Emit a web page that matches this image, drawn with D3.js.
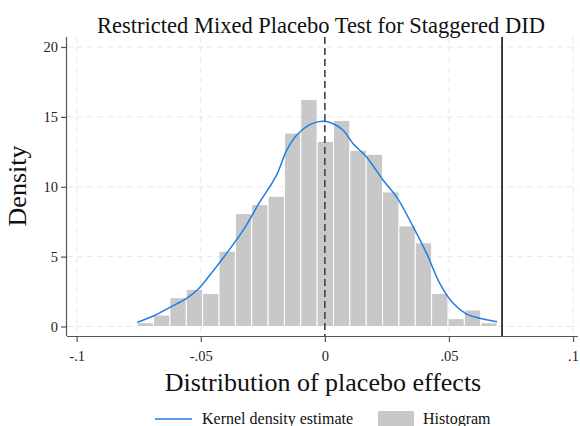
<!DOCTYPE html>
<html><head><meta charset="utf-8">
<script src="https://cdn.jsdelivr.net/npm/d3@7"></script>
<style>body{margin:0;background:#fff}svg{display:block}</style>
</head><body>
<svg id="chart" width="580" height="426"></svg>
<script>
// ---- data ----
const binStart = -0.0756;
const binWidth = 0.00659;
const histDensity = [0.27, 0.82, 2.06, 2.65, 2.37, 5.39, 8.08, 8.72, 9.32, 13.84, 16.25,
  13.25, 14.75, 12.61, 12.32, 9.63, 7.20, 5.99, 2.37, 0.56, 1.18, 0.27];
const kdeX = [-0.0756, -0.0691, -0.0624, -0.0557, -0.0510, -0.0463, -0.0396, -0.0329, -0.0262,
  -0.0195, -0.0154, -0.0114, -0.0060, -0.0010, 0.0034, 0.0074, 0.0114, 0.0168, 0.0235, 0.0289,
  0.0356, 0.0410, 0.0463, 0.0517, 0.0571, 0.0624, 0.0694];
const kdeY = [0.30, 0.75, 1.37, 2.01, 2.68, 3.68, 5.23, 6.89, 8.91,
  10.82, 12.61, 13.68, 14.45, 14.68, 14.51, 14.04, 13.08, 12.13, 10.46, 9.27,
  7.13, 5.23, 3.09, 1.66, 0.89, 0.59, 0.34];
const xTicks = [-0.1, -0.05, 0, 0.05, 0.1];
const xTickLabels = ["-.1", "-.05", "0", ".05", ".1"];
const yTicks = [0, 5, 10, 15, 20];
const trueEffect = 0.0714;
const titleText = "Restricted Mixed Placebo Test for Staggered DID";
const xTitle = "Distribution of placebo effects";
const yTitle = "Density";
const legendLabels = ["Kernel density estimate", "Histogram"];

// ---- layout ----
const L = 67, R = 578, T = 37, B = 336;
const svg = d3.select("#chart");
const font = "'Liberation Serif', 'Times New Roman', serif";
const x = d3.scaleLinear().domain([-0.1039, 0.1020]).range([L, R]);
const y = d3.scaleLinear().domain([-0.68, 20.716]).range([B, T]);

// grid
const g = svg.append("g");
g.selectAll("line.gy").data(yTicks).join("line")
  .attr("x1", L).attr("x2", R).attr("y1", d => y(d)).attr("y2", d => y(d))
  .attr("stroke", "#e8e8e8").attr("stroke-width", 1).attr("stroke-dasharray", "6,4");
g.selectAll("line.gx").data(xTicks).join("line")
  .attr("x1", d => x(d)).attr("x2", d => x(d)).attr("y1", T).attr("y2", B)
  .attr("stroke", "#e8e8e8").attr("stroke-width", 1).attr("stroke-dasharray", "6,4");

// histogram
const bins = histDensity.map((d, i) => ({x0: binStart + i * binWidth, x1: binStart + (i + 1) * binWidth, d}));
svg.append("g").selectAll("rect").data(bins).join("rect")
  .attr("x", d => x(d.x0)).attr("width", d => x(d.x1) - x(d.x0))
  .attr("y", d => y(d.d)).attr("height", d => y(0) - y(d.d))
  .attr("fill", "#c8c8c8").attr("stroke", "#ffffff").attr("stroke-width", 1);

// kde
const kde = kdeX.map((v, i) => [v, kdeY[i]]);
svg.append("path").datum(kde)
  .attr("d", d3.line().x(d => x(d[0])).y(d => y(d[1])).curve(d3.curveCatmullRom))
  .attr("fill", "none").attr("stroke", "#1e7ee6").attr("stroke-width", 1.5);

// reference lines
svg.append("line").attr("x1", x(0)).attr("x2", x(0)).attr("y1", T).attr("y2", B)
  .attr("stroke", "#444").attr("stroke-width", 1.6).attr("stroke-dasharray", "7,4");
svg.append("line").attr("x1", x(trueEffect)).attr("x2", x(trueEffect)).attr("y1", T).attr("y2", B)
  .attr("stroke", "#111").attr("stroke-width", 1.6);

// axes
const xAxis = d3.axisBottom(x).tickValues(xTicks).tickFormat((d, i) => xTickLabels[i]).tickSize(6).tickPadding(9);
const gx = svg.append("g").attr("transform", `translate(0,${B})`).call(xAxis);
gx.select(".domain").attr("d", `M${L},0.5H${R}`).attr("stroke", "#555").attr("stroke-width", 1.2);
gx.selectAll(".tick line").attr("stroke", "#555").attr("stroke-width", 1.2);
gx.selectAll("text").attr("font-family", font).attr("font-size", 14.5).attr("fill", "#222");

const yAxis = d3.axisLeft(y).tickValues(yTicks).tickSize(6).tickPadding(3);
const gy = svg.append("g").attr("transform", `translate(${L},0)`).call(yAxis);
gy.select(".domain").attr("d", `M-0.5,${T}V${B}`).attr("stroke", "#555").attr("stroke-width", 1.2);
gy.selectAll(".tick line").attr("stroke", "#555").attr("stroke-width", 1.2);
gy.selectAll("text").attr("font-family", font).attr("font-size", 14.5).attr("fill", "#222");

// titles
svg.append("text").attr("x", 321).attr("y", 33).attr("text-anchor", "middle")
  .attr("font-family", font).attr("font-size", 22.5).attr("fill", "#111").text(titleText);
svg.append("text").attr("x", 323).attr("y", 391).attr("text-anchor", "middle")
  .attr("font-family", font).attr("font-size", 26).attr("fill", "#111").text(xTitle);
svg.append("text").attr("transform", "translate(26,186) rotate(-90)").attr("text-anchor", "middle")
  .attr("font-family", font).attr("font-size", 26).attr("fill", "#111").text(yTitle);

// legend
const lg = svg.append("g");
lg.append("line").attr("x1", 155).attr("x2", 192).attr("y1", 419).attr("y2", 419)
  .attr("stroke", "#1e7ee6").attr("stroke-width", 1.5);
lg.append("text").attr("x", 202).attr("y", 424).attr("font-family", font).attr("font-size", 16)
  .attr("fill", "#111").text(legendLabels[0]);
lg.append("rect").attr("x", 378).attr("y", 411).attr("width", 36).attr("height", 18).attr("fill", "#c8c8c8");
lg.append("text").attr("x", 423).attr("y", 424).attr("font-family", font).attr("font-size", 16)
  .attr("fill", "#111").text(legendLabels[1]);
</script>
</body></html>
